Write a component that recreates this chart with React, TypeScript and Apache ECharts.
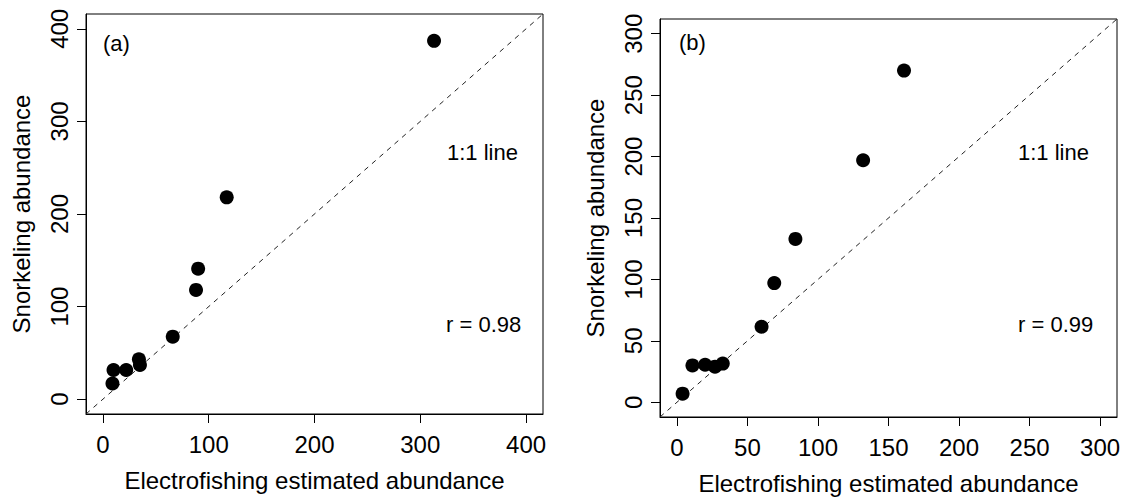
import React, { useEffect, useRef } from "react";
import * as echarts from "echarts";

// Panel (a)
const electroA = [313, 117, 90, 88, 66, 34, 35, 22, 10, 9];
const snorkelA = [387, 218, 141, 118, 67.5, 43, 37, 31.5, 31.5, 17];
// Panel (b)
const electroB = [161, 132, 84, 69, 60, 4, 11, 20, 27, 32.5];
const snorkelB = [270, 197, 133, 97, 61.5, 7, 30, 30.5, 29, 31.5];

const ticksA = [0, 100, 200, 300, 400];
const ticksB = [0, 50, 100, 150, 200, 250, 300];
const limitsA = [-16, 416];
const limitsB = [-12, 312];

const xTitle = "Electrofishing estimated abundance";
const yTitle = "Snorkeling abundance";
const panelLabels = ["(a)", "(b)"];
const lineLabel = "1:1 line";
const rLabels = ["r = 0.98", "r = 0.99"];

const FONT = "'Liberation Sans', Arial, Helvetica, sans-serif";
const TICK_FS = 24;
const NOTE_FS = 22;

function zip(xs: number[], ys: number[]) {
  return xs.map((x, i) => [x, ys[i]]);
}

function axis(gridIndex: number, ticks: number[], limits: number[], isY: boolean) {
  return {
    type: "value",
    gridIndex,
    min: limits[0],
    max: limits[1],
    name: isY ? yTitle : xTitle,
    nameLocation: "middle",
    nameGap: isY ? 53 : 54,
    nameTextStyle: { fontFamily: FONT, fontSize: TICK_FS, color: "#000" },
    splitLine: { show: false },
    axisLine: { show: true, onZero: false, lineStyle: { color: "#000", width: 1 } },
    axisTick: {
      show: true,
      inside: false,
      length: 9,
      customValues: ticks,
      lineStyle: { color: "#000", width: 1 },
    },
    axisLabel: {
      show: true,
      customValues: ticks,
      rotate: isY ? 90 : 0,
      margin: isY ? 15 : 18,
      fontFamily: FONT,
      fontSize: TICK_FS,
      color: "#000",
    },
  };
}

function note(x: number, y: number, text: string) {
  return {
    type: "text",
    x,
    y,
    style: {
      text,
      font: `${NOTE_FS}px ${FONT}`,
      fill: "#000",
      align: "left",
      verticalAlign: "middle",
    },
  };
}

export default function App() {
  const ref = useRef<HTMLDivElement>(null);
  useEffect(() => {
    if (!ref.current) return;
    const chart = echarts.init(ref.current, undefined, { renderer: "svg" });
    const dash = (limits: number[]) => [
      [limits[0], limits[0]],
      [limits[1], limits[1]],
    ];
    const dot = { color: "#000", opacity: 1 };
    chart.setOption({
      animation: false,
      backgroundColor: "#fff",
      textStyle: { fontFamily: FONT },
      grid: [
        { left: 86, top: 14, width: 457, height: 400, show: true, borderColor: "#000", borderWidth: 1, backgroundColor: "transparent" },
        { left: 660, top: 19, width: 457, height: 401, show: true, borderColor: "#000", borderWidth: 1, backgroundColor: "transparent" },
      ],
      xAxis: [axis(0, ticksA, limitsA, false), axis(1, ticksB, limitsB, false)],
      yAxis: [axis(0, ticksA, limitsA, true), axis(1, ticksB, limitsB, true)],
      series: [
        {
          type: "line",
          xAxisIndex: 0,
          yAxisIndex: 0,
          data: dash(limitsA),
          symbol: "none",
          silent: true,
          lineStyle: { color: "#222", width: 1, type: [5, 5] },
          z: 1,
        },
        {
          type: "scatter",
          xAxisIndex: 0,
          yAxisIndex: 0,
          data: zip(electroA, snorkelA),
          symbol: "circle",
          symbolSize: 14,
          itemStyle: dot,
          z: 2,
        },
        {
          type: "line",
          xAxisIndex: 1,
          yAxisIndex: 1,
          data: dash(limitsB),
          symbol: "none",
          silent: true,
          lineStyle: { color: "#222", width: 1, type: [5, 5] },
          z: 1,
        },
        {
          type: "scatter",
          xAxisIndex: 1,
          yAxisIndex: 1,
          data: zip(electroB, snorkelB),
          symbol: "circle",
          symbolSize: 14,
          itemStyle: dot,
          z: 2,
        },
      ],
      graphic: [
        note(103, 43, panelLabels[0]),
        note(447, 152, lineLabel),
        note(446, 324, rLabels[0]),
        note(679, 42, panelLabels[1]),
        note(1018, 152, lineLabel),
        note(1018, 324, rLabels[1]),
      ],
    });
    return () => chart.dispose();
  }, []);
  return (
    <div
      ref={ref}
      style={{ position: "fixed", left: 0, top: 0, width: 1127, height: 500, background: "#fff" }}
    />
  );
}
